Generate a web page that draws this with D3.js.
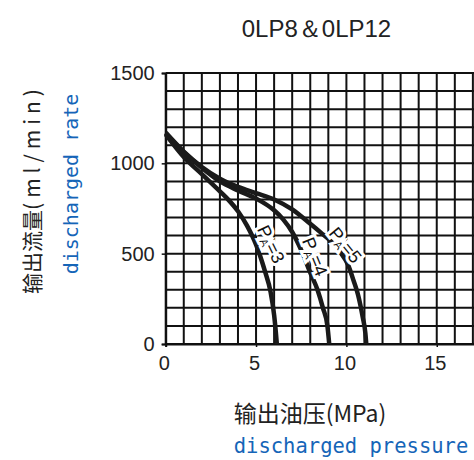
<!DOCTYPE html>
<html>
<head>
<meta charset="utf-8">
<script src="https://cdn.jsdelivr.net/npm/d3@7"></script>
<style>
  body { margin: 0; background: #fff; }
  svg { display: block; }
</style>
</head>
<body>
<svg id="chart" width="474" height="460"></svg>
<script>
// values
const xTicks = [0, 5, 10, 15];
const yTicks = [0, 500, 1000, 1500];
const paNames = ["3", "4", "5"];
const pa3 = [[0,1160],[1,1035],[2,940],[3,845],[3.5,795],[4,735],[4.5,655],[5,550],[5.5,400],[5.8,290],[6.0,160],[6.1,60],[6.15,0]];
const pa4 = [[0,1165],[1,1062],[2,975],[3,900],[4,850],[5,805],[6,740],[6.5,690],[7,620],[7.5,520],[8,395],[8.4,300],[8.7,200],[8.95,100],[9.05,0]];
const pa5 = [[0,1170],[1,1065],[2,980],[3,915],[4,870],[5,835],[6,800],[7,745],[8,665],[8.6,615],[9.1,572],[9.65,510],[10.1,437],[10.4,350],[10.65,270],[10.9,150],[11.05,60],[11.1,0]];
// label anchor (pressure, flow) and rotation for each curve label
const labelPos = [[5.83, 553], [8.26, 483], [9.95, 548]];
const labelAngle = [64, 68, 51];

const svg = d3.select('#chart');

// scales: plot area runs past the right edge like the original
const x = d3.scaleLinear().domain([0, 17.5]).range([165.7, 165.7 + 17.5 * 18.07]);
const y = d3.scaleLinear().domain([0, 1500]).range([344, 73]);

// grid
const grid = svg.append('g').attr('stroke', '#111').attr('stroke-width', 2);
grid.selectAll('line.v')
    .data(d3.range(0, 18, 1))
    .enter().append('line')
    .attr('x1', d => x(d)).attr('x2', d => x(d))
    .attr('y1', y(0)).attr('y2', y(1500));
grid.selectAll('line.h')
    .data(d3.range(0, 1600, 100))
    .enter().append('line')
    .attr('x1', x(0)).attr('x2', x(17.5))
    .attr('y1', d => y(d)).attr('y2', d => y(d));

// axes
const yAxis = svg.append('g')
    .attr('transform', `translate(${x(0)},0)`)
    .call(d3.axisLeft(y).tickValues(yTicks).tickFormat(d3.format('d')).tickSize(4).tickPadding(7));
const xAxis = svg.append('g')
    .attr('transform', `translate(0,${y(0)})`)
    .call(d3.axisBottom(x).tickValues(xTicks).tickFormat(d3.format('d')).tickSize(3).tickPadding(9));
[yAxis, xAxis].forEach(a => {
    a.select('.domain').attr('stroke', '#111').attr('stroke-width', 2);
    a.selectAll('.tick line').attr('stroke', '#111').attr('stroke-width', 1.5);
    a.selectAll('.tick text')
        .attr('fill', '#222')
        .style('font-family', '"Liberation Sans", Arial, sans-serif')
        .style('font-size', '20px');
});
xAxis.selectAll('.tick text').attr('dx', '-2');

// curves
const line = d3.line()
    .x(d => x(d[0]))
    .y(d => y(d[1]))
    .curve(d3.curveMonotoneX);
svg.append('g').selectAll('path')
    .data([pa3, pa4, pa5])
    .enter().append('path')
    .attr('d', line)
    .attr('fill', 'none')
    .attr('stroke', '#1a1a1a')
    .attr('stroke-width', 4.5);

// curve labels P_A=n
const labels = svg.append('g').selectAll('text')
    .data(paNames)
    .enter().append('text')
    .attr('transform', (d, i) => `translate(${x(labelPos[i][0])},${y(labelPos[i][1])}) rotate(${labelAngle[i]})`)
    .attr('text-anchor', 'middle')
    .attr('dy', '0.35em')
    .attr('fill', '#111')
    .attr('stroke', '#fff')
    .attr('stroke-width', 6)
    .attr('paint-order', 'stroke')
    .style('font-family', '"Liberation Sans", Arial, sans-serif')
    .style('font-size', '18px');
labels.append('tspan').text('P');
labels.append('tspan').attr('font-size', '11px').attr('dy', '3').text('A');
labels.append('tspan').attr('dy', '-3').text(d => '=' + d);

// title
svg.append('text')
    .attr('x', 316.5).attr('y', 37)
    .attr('text-anchor', 'middle')
    .attr('fill', '#222')
    .style('font-family', '"Liberation Sans", Arial, sans-serif')
    .style('font-size', '24px')
    .text('0LP8＆0LP12');

// y titles
const yt = svg.append('text')
    .attr('transform', 'translate(31,189) rotate(-90)')
    .attr('text-anchor', 'middle')
    .attr('dominant-baseline', 'central')
    .attr('fill', '#222')
    .style('font-family', '"Noto Sans CJK SC", sans-serif')
    .style('font-size', '21px');
yt.append('tspan').text('输出流量');
yt.append('tspan').attr('letter-spacing', '5px').text('(ml/min)');

svg.append('text')
    .attr('transform', 'translate(71,184) rotate(-90)')
    .attr('text-anchor', 'middle')
    .attr('dominant-baseline', 'central')
    .attr('fill', '#1565b8')
    .style('font-family', '"DejaVu Sans Mono", monospace')
    .style('font-size', '20px')
    .text('discharged rate');

// x titles
svg.append('text')
    .attr('x', 310).attr('y', 422)
    .attr('text-anchor', 'middle')
    .attr('fill', '#222')
    .style('font-family', '"Noto Sans CJK SC", sans-serif')
    .style('font-size', '23px')
    .text('输出油压(MPa)');

svg.append('text')
    .attr('x', 351).attr('y', 453)
    .attr('text-anchor', 'middle')
    .attr('fill', '#1565b8')
    .style('font-family', '"DejaVu Sans Mono", monospace')
    .style('font-size', '20.5px')
    .text('discharged pressure');
</script>
</body>
</html>
